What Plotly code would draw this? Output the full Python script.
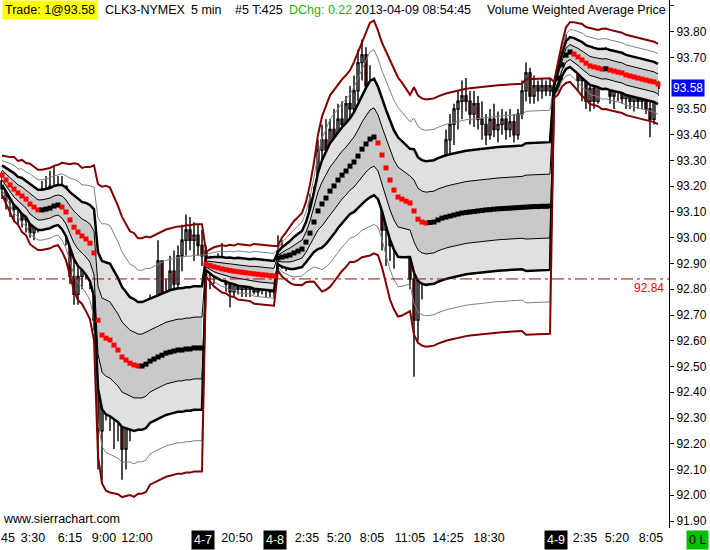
import plotly.graph_objects as go

# CLK3 5 min bars, 4 sessions (4-7 day, 4-7 evening, 4-8, 4-9)
session_starts = [0, 51, 69, 138]

opens = [
    93.22, 93.19, 93.15, 93.17, 93.11, 93.13, 93.07, 93.09, 93.02, 93.05, 93.09, 93.17, 93.15, 93.20, 93.17, 93.19,
    93.20, 93.01, 92.85, 92.78, 92.85, 92.93, 93.03, 92.84, 92.68, 92.25, 92.45, 92.64, 92.33, 92.37, 92.29, 92.18,
    92.33, 92.45, 92.33, 92.45, 92.56, 92.68, 92.60, 92.72, 92.91, 92.60, 92.76, 92.87, 92.82, 92.93, 92.99, 93.03,
    92.99, 93.01, 92.97,
    92.95, 92.87, 92.91, 92.85, 92.92, 92.88, 92.82, 92.79, 92.82, 92.80, 92.82, 92.80, 92.81, 92.79, 92.82, 92.80,
    92.81, 92.79,
    92.89, 92.95, 92.92, 92.91, 92.93, 92.97, 92.94, 92.99, 93.02, 93.13, 93.17, 93.34, 93.38, 93.34, 93.42, 93.38,
    93.46, 93.44, 93.52, 93.50, 93.57, 93.68, 93.71, 93.59, 93.50, 93.34, 93.20, 93.03, 93.11, 92.97, 93.05, 93.19,
    93.09, 92.99, 92.84, 92.68, 92.84, 92.93, 92.91, 92.97, 93.05, 93.17, 93.28, 93.38, 93.44, 93.50, 93.53, 93.55,
    93.53, 93.48, 93.52, 93.46, 93.44, 93.40, 93.46, 93.42, 93.44, 93.46, 93.42, 93.45, 93.40, 93.48, 93.57, 93.64,
    93.55, 93.59, 93.57, 93.59, 93.57,
    93.57, 93.59, 93.63, 93.69, 93.75, 93.71, 93.73, 93.61, 93.63, 93.53, 93.58, 93.53, 93.61, 93.69, 93.60, 93.55,
    93.58, 93.61, 93.54, 93.57, 93.53, 93.55, 93.53, 93.55, 93.50, 93.46, 93.59,
]
highs = [
    93.26, 93.23, 93.20, 93.19, 93.19, 93.17, 93.13, 93.11, 93.10, 93.13, 93.22, 93.24, 93.26, 93.28, 93.24, 93.24,
    93.20, 93.05, 92.93, 92.89, 92.99, 93.09, 93.03, 92.89, 92.76, 92.60, 92.76, 92.68, 92.45, 92.52, 92.37, 92.41,
    92.52, 92.56, 92.52, 92.64, 92.76, 92.78, 92.76, 92.99, 92.91, 92.84, 92.93, 92.95, 92.97, 93.05, 93.09, 93.08,
    93.06, 93.05, 93.03,
    92.97, 92.93, 92.92, 92.94, 92.98, 92.91, 92.85, 92.84, 92.84, 92.84, 92.85, 92.84, 92.84, 92.83, 92.85, 92.84,
    92.83, 92.82,
    93.01, 92.99, 92.97, 92.98, 93.00, 93.02, 93.01, 93.05, 93.17, 93.20, 93.38, 93.44, 93.46, 93.46, 93.50, 93.52,
    93.53, 93.55, 93.59, 93.63, 93.73, 93.77, 93.74, 93.67, 93.57, 93.42, 93.30, 93.20, 93.19, 93.15, 93.24, 93.30,
    93.22, 93.09, 92.99, 92.91, 92.99, 93.01, 93.02, 93.09, 93.20, 93.32, 93.42, 93.48, 93.52, 93.57, 93.61, 93.62,
    93.57, 93.57, 93.55, 93.53, 93.48, 93.50, 93.52, 93.49, 93.50, 93.49, 93.50, 93.48, 93.50, 93.61, 93.68, 93.66,
    93.63, 93.61, 93.62, 93.61, 93.62,
    93.61, 93.65, 93.71, 93.79, 93.78, 93.75, 93.73, 93.67, 93.65, 93.61, 93.62, 93.63, 93.73, 93.74, 93.62, 93.61,
    93.64, 93.63, 93.59, 93.60, 93.58, 93.59, 93.58, 93.57, 93.55, 93.63, 93.61,
]
lows = [
    93.15, 93.11, 93.08, 93.06, 93.05, 93.04, 93.02, 93.00, 92.99, 93.02, 93.06, 93.09, 93.10, 93.13, 93.11, 93.15,
    92.97, 92.82, 92.74, 92.74, 92.80, 92.84, 92.80, 92.64, 92.10, 92.06, 92.29, 92.25, 92.18, 92.21, 92.06, 92.10,
    92.21, 92.25, 92.25, 92.33, 92.37, 92.49, 92.41, 92.72, 92.45, 92.41, 92.68, 92.76, 92.80, 92.87, 92.93, 92.95,
    92.91, 92.93, 92.89,
    92.82, 92.80, 92.82, 92.84, 92.85, 92.79, 92.73, 92.77, 92.78, 92.77, 92.77, 92.77, 92.78, 92.77, 92.78, 92.77,
    92.77, 92.77,
    92.87, 92.88, 92.87, 92.88, 92.91, 92.92, 92.91, 92.93, 92.99, 93.05, 93.15, 93.28, 93.30, 93.28, 93.34, 93.36,
    93.38, 93.42, 93.44, 93.46, 93.53, 93.61, 93.53, 93.42, 93.30, 93.15, 92.95, 92.89, 92.91, 92.88, 92.95, 93.01,
    92.93, 92.80, 92.46, 92.60, 92.76, 92.85, 92.87, 92.89, 92.99, 93.13, 93.22, 93.30, 93.36, 93.42, 93.46, 93.49,
    93.44, 93.43, 93.42, 93.38, 93.36, 93.38, 93.39, 93.37, 93.40, 93.38, 93.39, 93.37, 93.38, 93.46, 93.53, 93.52,
    93.52, 93.53, 93.54, 93.55, 93.55,
    93.55, 93.57, 93.61, 93.68, 93.69, 93.65, 93.57, 93.53, 93.50, 93.49, 93.50, 93.52, 93.59, 93.60, 93.52, 93.50,
    93.53, 93.52, 93.50, 93.50, 93.49, 93.50, 93.50, 93.48, 93.39, 93.44, 93.55,
]
closes = [
    93.19, 93.15, 93.17, 93.11, 93.13, 93.07, 93.09, 93.02, 93.05, 93.09, 93.17, 93.15, 93.20, 93.17, 93.19, 93.20,
    93.01, 92.85, 92.78, 92.85, 92.93, 93.03, 92.84, 92.68, 92.25, 92.45, 92.64, 92.33, 92.37, 92.29, 92.18, 92.33,
    92.45, 92.33, 92.45, 92.56, 92.68, 92.60, 92.72, 92.91, 92.60, 92.76, 92.87, 92.82, 92.93, 92.99, 93.03, 92.99,
    93.01, 92.97, 92.93,
    92.87, 92.91, 92.85, 92.92, 92.88, 92.82, 92.79, 92.82, 92.80, 92.82, 92.80, 92.81, 92.79, 92.82, 92.80, 92.81,
    92.79, 92.80,
    92.95, 92.92, 92.91, 92.93, 92.97, 92.94, 92.99, 93.02, 93.13, 93.17, 93.34, 93.38, 93.34, 93.42, 93.38, 93.46,
    93.44, 93.52, 93.50, 93.57, 93.68, 93.71, 93.59, 93.50, 93.34, 93.20, 93.03, 93.11, 92.97, 93.05, 93.19, 93.09,
    92.99, 92.84, 92.68, 92.84, 92.93, 92.91, 92.97, 93.05, 93.17, 93.28, 93.38, 93.44, 93.50, 93.53, 93.55, 93.53,
    93.48, 93.52, 93.46, 93.44, 93.40, 93.46, 93.42, 93.44, 93.46, 93.42, 93.45, 93.40, 93.48, 93.57, 93.64, 93.55,
    93.59, 93.57, 93.59, 93.57, 93.59,
    93.59, 93.63, 93.69, 93.75, 93.71, 93.73, 93.61, 93.63, 93.53, 93.58, 93.53, 93.61, 93.69, 93.60, 93.55, 93.58,
    93.61, 93.54, 93.57, 93.53, 93.55, 93.53, 93.55, 93.50, 93.46, 93.59, 93.58,
]

# session VWAP and its standard deviation
vwap = [
    93.243, 93.224, 93.205, 93.189, 93.174, 93.162, 93.150, 93.131, 93.119, 93.108, 93.108, 93.111, 93.115, 93.123,
    93.127, 93.119, 93.100, 93.069, 93.041, 93.022, 93.007, 92.995, 92.979, 92.941, 92.680, 92.622, 92.610, 92.603,
    92.583, 92.564, 92.537, 92.525, 92.513, 92.506, 92.502, 92.502, 92.509, 92.521, 92.529, 92.537, 92.544, 92.552,
    92.556, 92.560, 92.564, 92.564, 92.568, 92.568, 92.572, 92.572, 92.572,
    92.898, 92.892, 92.887, 92.883, 92.879, 92.876, 92.873, 92.870, 92.868, 92.866, 92.864, 92.862, 92.860, 92.858,
    92.856, 92.855, 92.853, 92.852,
    92.921, 92.925, 92.929, 92.933, 92.941, 92.948, 92.956, 92.983, 93.018, 93.061, 93.104, 93.131, 93.154, 93.181,
    93.201, 93.224, 93.243, 93.259, 93.278, 93.294, 93.317, 93.344, 93.364, 93.383, 93.391, 93.368, 93.321, 93.271,
    93.224, 93.185, 93.158, 93.150, 93.142, 93.135, 93.104, 93.072, 93.061, 93.057, 93.059, 93.061, 93.069, 93.076,
    93.080, 93.084, 93.088, 93.092, 93.096, 93.098, 93.100, 93.102, 93.104, 93.106, 93.108, 93.109, 93.111, 93.112,
    93.113, 93.114, 93.115, 93.116, 93.117, 93.118, 93.119, 93.120, 93.121, 93.121, 93.122, 93.122, 93.123,
    93.574, 93.620, 93.671, 93.709, 93.721, 93.713, 93.702, 93.690, 93.678, 93.667, 93.663, 93.659, 93.655, 93.656,
    93.651, 93.647, 93.643, 93.640, 93.632, 93.628, 93.624, 93.620, 93.616, 93.612, 93.608, 93.605, 93.597,
]
vwap_sd = [
    0.019, 0.023, 0.027, 0.031, 0.031, 0.035, 0.035, 0.039, 0.039, 0.039, 0.039, 0.039, 0.039, 0.039, 0.039, 0.043,
    0.047, 0.054, 0.062, 0.066, 0.066, 0.070, 0.074, 0.085, 0.132, 0.144, 0.148, 0.148, 0.144, 0.140, 0.136, 0.132,
    0.128, 0.128, 0.124, 0.124, 0.124, 0.120, 0.120, 0.120, 0.120, 0.120, 0.120, 0.120, 0.120, 0.120, 0.120, 0.120,
    0.120, 0.120, 0.120,
    0.012, 0.016, 0.019, 0.021, 0.023, 0.023, 0.025, 0.025, 0.027, 0.027, 0.027, 0.027, 0.029, 0.029, 0.029, 0.029,
    0.029, 0.029,
    0.012, 0.019, 0.023, 0.027, 0.031, 0.033, 0.035, 0.039, 0.047, 0.058, 0.074, 0.085, 0.089, 0.093, 0.093, 0.093,
    0.093, 0.093, 0.093, 0.097, 0.101, 0.105, 0.109, 0.113, 0.113, 0.109, 0.109, 0.113, 0.116, 0.116, 0.116, 0.113,
    0.109, 0.105, 0.120, 0.120, 0.120, 0.120, 0.120, 0.120, 0.120, 0.120, 0.120, 0.120, 0.120, 0.120, 0.120, 0.120,
    0.120, 0.120, 0.120, 0.120, 0.120, 0.120, 0.120, 0.120, 0.120, 0.120, 0.120, 0.120, 0.120, 0.120, 0.124, 0.124,
    0.124, 0.124, 0.124, 0.124, 0.124,
    0.008, 0.016, 0.021, 0.027, 0.029, 0.031, 0.033, 0.035, 0.035, 0.037, 0.037, 0.037, 0.039, 0.039, 0.039, 0.039,
    0.039, 0.039, 0.039, 0.039, 0.039, 0.039, 0.039, 0.039, 0.039, 0.039, 0.039,
]

# x axis labels (bar positions) and session date markers
tick_pos = [1.5, 7.75, 17, 25.5, 33.75, 58.75, 76.25, 84.25, 92.5, 102, 111.5, 121.75, 145.75, 153.75, 162.25]
tick_text = ["45", "3:30", "6:15", "9:00", "12:00", "20:50", "2:35", "5:20", "8:05", "11:05", "14:25", "18:30",
             "2:35", "5:20", "8:05"]
date_pos = [50.25, 68.25, 138.5]
date_text = ["4-7", "4-8", "4-9"]
y_ticks = [91.9, 92.0, 92.1, 92.2, 92.3, 92.4, 92.5, 92.6, 92.7, 92.8, 92.9, 93.0, 93.1, 93.2, 93.3, 93.4, 93.5,
           93.7, 93.8, 93.9]
last_price = 93.58
ref_line = 92.84

FONT = "Liberation Sans"
DARK_FILL = "#c9c9c9"
LIGHT_FILL = "#e0e0e0"
X_RIGHT = 669 / 710

n = len(closes)
bars = list(range(n))
bounds = list(zip(session_starts, session_starts[1:] + [n]))


def band(k):
    return [v + k * d for v, d in zip(vwap, vwap_sd)]


fig = go.Figure()

# shaded +/-1 and +/-2 zones, one set per session
for s, e in bounds:
    xs = bars[s:e]
    layers = [(-2, None, None), (-1, "tonexty", LIGHT_FILL), (1, "tonexty", DARK_FILL), (2, "tonexty", LIGHT_FILL)]
    for k, fill, col in layers:
        fig.add_trace(go.Scatter(x=xs, y=band(k)[s:e], mode="lines", line=dict(width=0),
                                 fill=fill, fillcolor=col, hoverinfo="skip"))

fig.add_trace(go.Candlestick(
    x=bars, open=opens, high=highs, low=lows, close=closes,
    increasing=dict(line=dict(color="black", width=1.4), fillcolor="white"),
    decreasing=dict(line=dict(color="black", width=1.4), fillcolor="#ff0000"),
    whiskerwidth=0, hoverinfo="skip",
))

band_styles = [(3, "#808080", 1), (1, "black", 1), (2, "black", 2.5), (4, "#800000", 2)]
for k, col, w in band_styles:
    for sign in (1, -1):
        fig.add_trace(go.Scatter(x=bars, y=band(sign * k), mode="lines",
                                 line=dict(color=col, width=w), hoverinfo="skip"))

# VWAP: black while rising, red while falling
vcolors = []
for s, e in bounds:
    for j in range(s, e):
        if j == s:
            up = vwap[j + 1] >= vwap[j]
        else:
            up = vwap[j] >= vwap[j - 1]
        vcolors.append("black" if up else "#ff0000")
fig.add_trace(go.Scatter(x=bars, y=vwap, mode="markers",
                         marker=dict(symbol="square", size=5, color=vcolors, line=dict(width=0)),
                         hoverinfo="skip"))

fig.add_shape(type="line", xref="paper", x0=0, x1=X_RIGHT, yref="y", y0=ref_line, y1=ref_line,
              line=dict(color="#b00000", width=1, dash="12px,4px,3px,4px"))

header = [
    ("CLK3-NYMEX", 103, "black"),
    ("5 min", 189, "black"),
    ("#5 T:425", 233, "black"),
    ("DChg: 0.22", 287, "#1db31d"),
    ("2013-04-09 08:54:45", 353, "black"),
]
hy = 1 - 9.5 / 550
fig.add_annotation(text="Trade: 1@%.2f" % last_price, x=2 / 710, y=hy, xref="paper", yref="paper",
                   xanchor="left", yanchor="middle", showarrow=False, bgcolor="#ffff00", borderpad=2,
                   font=dict(family=FONT, size=12.5, color="black"))
for txt, px, col in header:
    fig.add_annotation(text=txt, x=px / 710, y=hy, xref="paper", yref="paper", xanchor="left",
                       yanchor="middle", showarrow=False, font=dict(family=FONT, size=12.5, color=col))
fig.add_annotation(text="Volume Weighted Average Price", x=668 / 710, y=hy, xref="paper", yref="paper",
                   xanchor="right", yanchor="middle", showarrow=False,
                   font=dict(family=FONT, size=12.5, color="black"))

fig.add_annotation(text="www.sierrachart.com", x=1 / 710, y=1 - 519 / 550, xref="paper", yref="paper",
                   xanchor="left", yanchor="middle", showarrow=False,
                   font=dict(family=FONT, size=12.5, color="black"))
fig.add_annotation(text="%.2f" % ref_line, x=666 / 710, y=ref_line, xref="paper", yref="y",
                   xanchor="right", yanchor="top", showarrow=False,
                   font=dict(family=FONT, size=12, color="#ff0000"))
fig.add_annotation(text="%.2f" % last_price, x=671 / 710, y=last_price, xref="paper", yref="y",
                   xanchor="left", yanchor="middle", showarrow=False, bgcolor="#0000ff", borderpad=1,
                   font=dict(family=FONT, size=12, color="white"))
for txt, pos in zip(date_text, date_pos):
    fig.add_annotation(text=txt, x=pos, y=1 - 540 / 550, xref="x", yref="paper", xanchor="center",
                       yanchor="middle", showarrow=False, bgcolor="black", borderpad=2,
                       font=dict(family=FONT, size=12.5, color="white"))
fig.add_annotation(text="0 L", x=697 / 710, y=1 - 540 / 550, xref="paper", yref="paper", xanchor="center",
                   yanchor="middle", showarrow=False, bgcolor="#00c000", borderpad=2,
                   font=dict(family=FONT, size=12.5, color="black"))

fig.update_layout(
    width=710, height=550,
    margin=dict(l=0, r=0, t=0, b=0),
    paper_bgcolor="white", plot_bgcolor="white",
    showlegend=False,
    font=dict(family=FONT, size=12, color="black"),
    xaxis=dict(domain=[0, X_RIGHT], range=[-0.5, 166.75], showgrid=False, zeroline=False,
               tickvals=tick_pos, ticktext=tick_text, ticks="", showline=False,
               tickfont=dict(size=12.5), rangeslider=dict(visible=False)),
    yaxis=dict(domain=[22 / 550, 1], range=[91.873, 93.923], side="right", showgrid=False,
               zeroline=False, showline=True, linecolor="black", linewidth=1, ticks="outside",
               ticklen=4, tickcolor="black", tickvals=y_ticks, tickformat=".2f"),
)

# page body has a default 8px margin; drop it so the 710x550 figure fills the window
fig.write_html("out.html", config={"displayModeBar": False},
               post_script="document.body.style.margin='0';document.body.style.overflow='hidden';")
